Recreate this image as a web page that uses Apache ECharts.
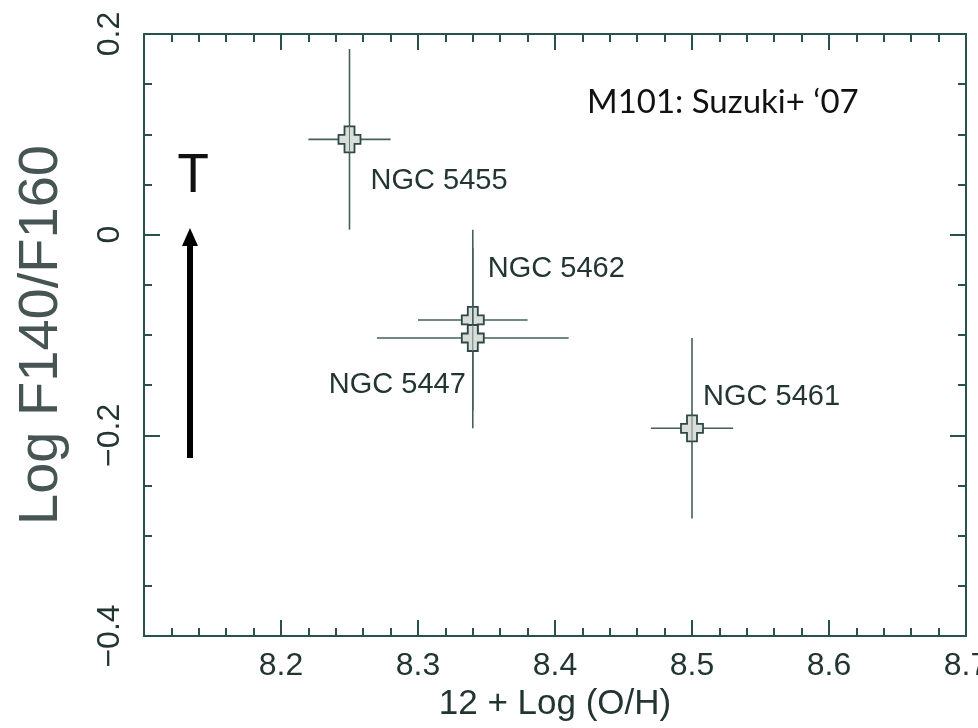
<!DOCTYPE html>
<html>
<head>
<meta charset="utf-8">
<script src="https://cdn.jsdelivr.net/npm/echarts@6/dist/echarts.min.js"></script>
<style>
html,body{margin:0;padding:0;background:#fff;}
#chart{width:978px;height:728px;}
</style>
</head>
<body>
<div id="chart"></div>
<script>
// ---- data ----
const regionNames = ['NGC 5455', 'NGC 5462', 'NGC 5447', 'NGC 5461'];
const oxygenAbundance = [8.25, 8.34, 8.34, 8.50];       // 12 + Log(O/H)
const oxygenError = [0.03, 0.04, 0.07, 0.03];
const fluxRatio = [0.095, -0.085, -0.103, -0.193];       // Log F140/F160
const fluxRatioError = [0.09, 0.09, 0.09, 0.09];
const xTickValues = ['8.2', '8.3', '8.4', '8.5', '8.6', '8.7'];
const yTickValues = ['0.2', '0', '\u22120.2', '\u22120.4'];

// ---- label layout (pixel offsets from point, not data) ----
const labelLayout = [
  {dx: 21, dy: 42, align: 'left'},
  {dx: 15, dy: -51, align: 'left'},
  {dx: -7, dy: 47, align: 'right'},
  {dx: 11, dy: -31, align: 'left'}
];

const AXIS_COLOR = '#28504c';
const TEXT_COLOR = '#233533';
const FONT = '"Liberation Sans", Arial, sans-serif';

const seriesData = regionNames.map((n, i) => [oxygenAbundance[i], fluxRatio[i], oxygenError[i], fluxRatioError[i], i]);

function renderPoint(params, api) {
  const x = api.value(0), y = api.value(1), ex = api.value(2), ey = api.value(3), idx = api.value(4);
  const c = api.coord([x, y]);
  const l = api.coord([x - ex, y]);
  const r = api.coord([x + ex, y]);
  const t = api.coord([x, y + ey]);
  const b = api.coord([x, y - ey]);
  const lineStyle = {stroke: '#45605c', lineWidth: 1.6};
  const w = 11, a = 4.5, hh = 13, hw = 5;
  const cx = c[0], cy = c[1];
  const cross = [
    [cx - hw, cy - hh], [cx + hw, cy - hh], [cx + hw, cy - a], [cx + w, cy - a],
    [cx + w, cy + a], [cx + hw, cy + a], [cx + hw, cy + hh], [cx - hw, cy + hh],
    [cx - hw, cy + a], [cx - w, cy + a], [cx - w, cy - a], [cx - hw, cy - a]
  ];
  const lay = labelLayout[idx];
  return {
    type: 'group',
    children: [
      {type: 'line', shape: {x1: l[0], y1: l[1], x2: r[0], y2: r[1]}, style: lineStyle},
      {type: 'line', shape: {x1: t[0], y1: t[1], x2: b[0], y2: b[1]}, style: lineStyle},
      {type: 'polygon', shape: {points: cross}, style: {fill: '#d9dedb', stroke: '#2d4845', lineWidth: 1.8}},
      {type: 'line', shape: {x1: cx, y1: cy - hh, x2: cx, y2: cy + hh}, style: {stroke: '#6d7a78', lineWidth: 1}},
      {type: 'text', x: cx + lay.dx, y: cy + lay.dy,
       style: {text: regionNames[idx], fill: TEXT_COLOR, font: '29px ' + FONT, align: lay.align, verticalAlign: 'middle'}}
    ]
  };
}

const xFmt = v => {
  const s = (Math.round(v * 10) / 10).toFixed(1);
  return xTickValues.indexOf(s) >= 0 ? s : '';
};
const yFmt = v => {
  const r = Math.round(v * 10) / 10;
  const s = r === 0 ? '0' : (r < 0 ? '\u2212' : '') + Math.abs(r).toFixed(1);
  return yTickValues.indexOf(s) >= 0 ? s : '';
};

const baseX = {
  type: 'value', min: 8.1, max: 8.7, interval: 0.1, gridIndex: 0,
  axisLine: {show: true, onZero: false, lineStyle: {color: AXIS_COLOR, width: 2}},
  axisTick: {show: true, inside: true, length: 16, lineStyle: {color: AXIS_COLOR, width: 2}},
  minorTick: {show: true, splitNumber: 5, length: 8, lineStyle: {color: AXIS_COLOR, width: 2}},
  splitLine: {show: false}, minorSplitLine: {show: false}
};
const baseY = {
  type: 'value', min: -0.4, max: 0.2, interval: 0.2, gridIndex: 0,
  axisLine: {show: true, onZero: false, lineStyle: {color: AXIS_COLOR, width: 2}},
  axisTick: {show: true, inside: true, length: 16, lineStyle: {color: AXIS_COLOR, width: 2}},
  minorTick: {show: true, splitNumber: 4, length: 8, lineStyle: {color: AXIS_COLOR, width: 2}},
  splitLine: {show: false}, minorSplitLine: {show: false}
};

const gridBox = {left: 144, top: 34, right: 12, bottom: 92, containLabel: false, outerBoundsMode: 'none'};

const chart = echarts.init(document.getElementById('chart'), null, {renderer: 'canvas'});
chart.setOption({
  backgroundColor: '#ffffff',
  animation: false,
  grid: [Object.assign({}, gridBox), Object.assign({}, gridBox)],
  xAxis: [
    Object.assign({}, baseX, {
      position: 'bottom',
      name: '12 + Log (O/H)', nameLocation: 'middle', nameGap: 51,
      nameTextStyle: {color: TEXT_COLOR, fontFamily: FONT, fontSize: 35},
      axisLabel: {show: true, formatter: xFmt, color: TEXT_COLOR, fontFamily: FONT, fontSize: 32, margin: 14, showMinLabel: true, showMaxLabel: true}
    }),
    Object.assign({}, baseX, {position: 'top', axisLabel: {show: false}}),
    Object.assign({}, baseX, {gridIndex: 1, position: 'bottom', axisLabel: {show: false}})
  ],
  yAxis: [
    Object.assign({}, baseY, {
      position: 'left',
      name: 'Log F140/F160', nameLocation: 'middle', nameGap: 74, nameRotate: 90,
      nameTextStyle: {color: '#465553', fontFamily: FONT, fontSize: 56},
      axisLabel: {show: true, rotate: 90, formatter: yFmt, color: TEXT_COLOR, fontFamily: FONT, fontSize: 32, margin: 18, showMinLabel: true, showMaxLabel: true}
    }),
    Object.assign({}, baseY, {position: 'right', axisLabel: {show: false}}),
    Object.assign({}, baseY, {gridIndex: 1, position: 'left', show: false})
  ],
  series: [{
    type: 'custom', xAxisIndex: 0, yAxisIndex: 0,
    renderItem: renderPoint, data: seriesData, clip: false, z: 5
  }],
  graphic: [
    {type: 'text', left: 587, top: 86, style: {text: 'M101: Suzuki+ \u201807', fill: '#111', font: '33px Lato, "Open Sans", sans-serif'}},
    {type: 'text', x: 193, y: 175, style: {text: 'T', fill: '#111', font: '52px Lato, "Open Sans", sans-serif', align: 'center', verticalAlign: 'middle'}},
    {type: 'rect', shape: {x: 187, y: 243, width: 6, height: 215}, style: {fill: '#000'}},
    {type: 'polygon', shape: {points: [[190, 228], [182, 246], [198, 246]]}, style: {fill: '#000'}}
  ]
});
</script>
</body>
</html>
